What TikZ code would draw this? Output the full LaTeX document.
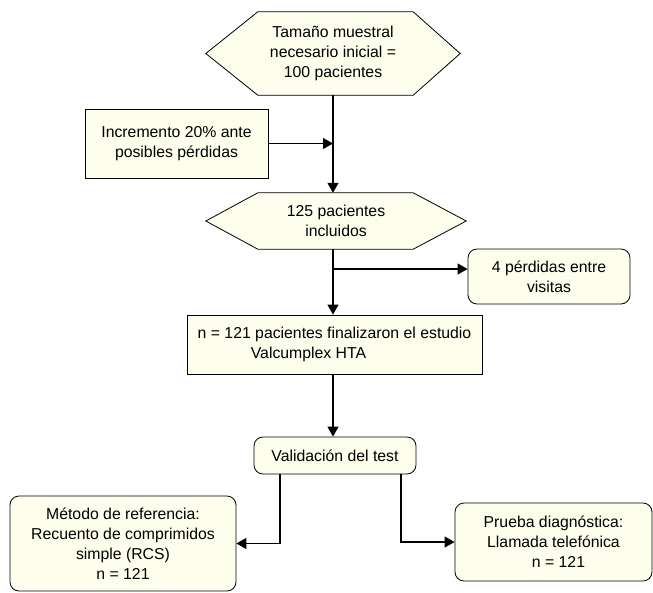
\documentclass[tikz,border=0pt]{standalone}
\usepackage{fontspec}
\setmainfont{Liberation Sans}
\usetikzlibrary{arrows.meta,positioning,calc,backgrounds}
\definecolor{boxfill}{HTML}{FEFEEC}

\begin{document}
\begin{tikzpicture}[x=1pt,y=-1pt,
    font=\fontsize{15.8}{20}\selectfont,
    box/.style={draw,line width=0.8pt,fill=boxfill,align=center,inner sep=0pt},
    roundbox/.style={box,rounded corners=9pt},
    hexnode/.style={align=center,inner sep=0pt},
    hexline/.style={draw,line width=0.8pt,fill=boxfill},
    arr/.style={line width=1.1pt,-{Triangle[length=10pt,width=11pt]}}]
  \useasboundingbox (0,0) rectangle (653,592);
  % Muestra inicial
  \node[hexnode,minimum width=254pt,minimum height=83pt] (inicial) at (333,53.5)
    {Tamaño muestral\\necesario inicial =\\100 pacientes};
  \node[box,minimum width=183pt,minimum height=69pt] (incr) at (176.5,143.5)
    {Incremento 20\% ante\\posibles pérdidas};
  % Pacientes incluidos
  \node[hexnode,minimum width=260pt,minimum height=56pt] (incl) at (336,221)
    {125 pacientes\\incluidos};
  \node[roundbox,minimum width=162pt,minimum height=55pt] (perd) at (549,276.5)
    {4 pérdidas entre\\visitas};
  \node[box,minimum width=295pt,minimum height=59pt] (fin) at (334.5,344.5)
    {n = 121 pacientes finalizaron el estudio\\\hspace*{-52pt}Valcumplex HTA};
  % Validacion
  \node[roundbox,minimum width=162pt,minimum height=37pt] (valid) at (335,455.5)
    {Validación del test};
  \node[roundbox,minimum width=226pt,minimum height=95pt] (ref) at (123,543.5)
    {Método de referencia:\\Recuento de comprimidos\\simple (RCS)\\n = 121};
  \node[roundbox,minimum width=197pt,minimum height=78pt] (diag) at (553.5,542)
    {Prueba diagnóstica:\\Llamada telefónica\\\hspace*{10pt}n = 121};
  % hexagonos
  \begin{scope}[on background layer]
    \path[hexline] (inicial.west) -- ([xshift=52pt]inicial.north west)
      -- ([xshift=-47pt]inicial.north east) -- (inicial.east)
      -- ([xshift=-47pt]inicial.south east) -- ([xshift=52pt]inicial.south west) -- cycle;
    \path[hexline] (incl.west) -- ([xshift=52pt]incl.north west)
      -- ([xshift=-53pt]incl.north east) -- (incl.east)
      -- ([xshift=-53pt]incl.south east) -- ([xshift=52pt]incl.south west) -- cycle;
  \end{scope}
  % Conectores
  \coordinate (rama) at (333,269);
  \draw[arr] (inicial.south) -- (inicial.south |- incl.north);
  \draw[arr] (incr.east) -- (incr.east -| inicial.south);
  \draw[arr] (inicial.south |- incl.south) -- (inicial.south |- fin.north);
  \draw[arr] (rama) -- (rama -| perd.west);
  \draw[arr] (inicial.south |- fin.south) -- (inicial.south |- valid.north);
  \draw[arr] ([xshift=-55pt]valid.south) |- (ref.east);
  \draw[arr] ([xshift=66pt]valid.south) |- (diag.west);
\end{tikzpicture}
\end{document}
